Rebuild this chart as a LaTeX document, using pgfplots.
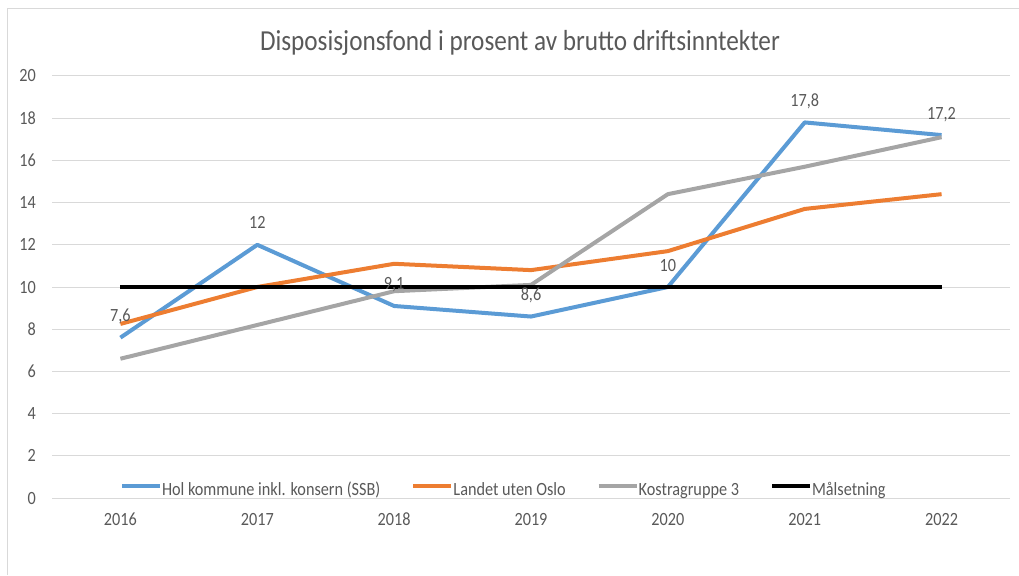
\documentclass[border=0pt]{standalone}
\usepackage{graphicx}
\usepackage{fontspec}
\setmainfont{Carlito}
\usepackage{pgfplots}
\pgfplotsset{compat=1.18}
\definecolor{cblue}{HTML}{5B9BD5}
\definecolor{corange}{HTML}{ED7D31}
\definecolor{cgray}{HTML}{A5A5A5}
\definecolor{gridc}{HTML}{D9D9D9}
\definecolor{txt}{HTML}{595959}
\newcommand\sq[1]{\scalebox{0.87}[1]{#1}}
\begin{document}
\begin{tikzpicture}
\begin{axis}[
  at={(39pt,57.75pt)}, anchor=south west,
  scale only axis, width=718.5pt, height=316.5pt,
  xmin=-0.5, xmax=6.5, ymin=0, ymax=20,
  xtick={0,...,6},
  xticklabels={\sq{2016},\sq{2017},\sq{2018},\sq{2019},\sq{2020},\sq{2021},\sq{2022}},
  ytick={0,2,...,20},
  yticklabels={\sq{0},\sq{2},\sq{4},\sq{6},\sq{8},\sq{10},\sq{12},\sq{14},\sq{16},\sq{18},\sq{20}},
  ymajorgrids, grid style={draw=gridc, line width=0.75pt},
  axis line style={draw=none}, major tick length=0pt,
  tick label style={font=\fontsize{14}{16}\selectfont, text=txt},
  xticklabel style={anchor=base, inner sep=0pt, yshift=-20.25pt},
  yticklabel style={anchor=base east, inner sep=0pt, xshift=-12pt, yshift=-4.5pt},
  legend style={at={(0.071,0.019)}, anchor=west, draw=none, fill=none,
    font=\fontsize{14}{16}\selectfont, text=txt, inner sep=0pt, outer sep=0pt,
    nodes={inner sep=0pt},
    /tikz/every odd column/.append style={column sep=0pt},
    /tikz/every even column/.append style={column sep=23.25pt}},
  legend columns=4,
  legend image code/.code={\draw[#1, line width=3pt] (0pt,3pt) -- (28.5pt,3pt);},
  line join=round,
  clip=false,
]
\addplot[cblue, line width=3pt, nodes near coords={\sq{\pgfplotspointmeta}},
  point meta=explicit symbolic,
  nodes near coords style={anchor=base, inner sep=0pt, yshift=12pt,
    font=\fontsize{14}{16}\selectfont, text=txt}]
  table[meta=lab] {
x y lab
0 7.6 7,6
1 12.0 12
2 9.1 9,1
3 8.6 8,6
4 10.0 10
5 17.8 17,8
6 17.2 17,2
};
\addlegendentry{\sq{Hol kommune inkl. konsern (SSB)}}
\addplot[corange, line width=3pt] table {
x y
0 8.25
1 10.0
2 11.1
3 10.8
4 11.7
5 13.7
6 14.4
};
\addlegendentry{\sq{Landet uten Oslo}}
\addplot[cgray, line width=3pt] table {
x y
0 6.6
1 8.2
2 9.8
3 10.1
4 14.4
5 15.7
6 17.1
};
\addlegendentry{\sq{Kostragruppe 3}}
\addplot[black, line width=3pt] table {
x y
0 10
1 10
2 10
3 10
4 10
5 10
6 10
};
\addlegendentry{\sq{Målsetning}}
\end{axis}
\draw[gridc, line width=0.75pt] (5.25pt,0pt) -- (5.25pt,424.5pt) -- (764.25pt,424.5pt);
\node[anchor=base, inner sep=0pt, text=txt, font=\fontsize{21.75}{24}\selectfont]
  at (390pt,393.2pt) {\sq{Disposisjonsfond i prosent av brutto driftsinntekter}};
\pgfresetboundingbox
\path (0pt,0pt) rectangle (764.25pt,431.25pt);
\end{tikzpicture}
\end{document}
